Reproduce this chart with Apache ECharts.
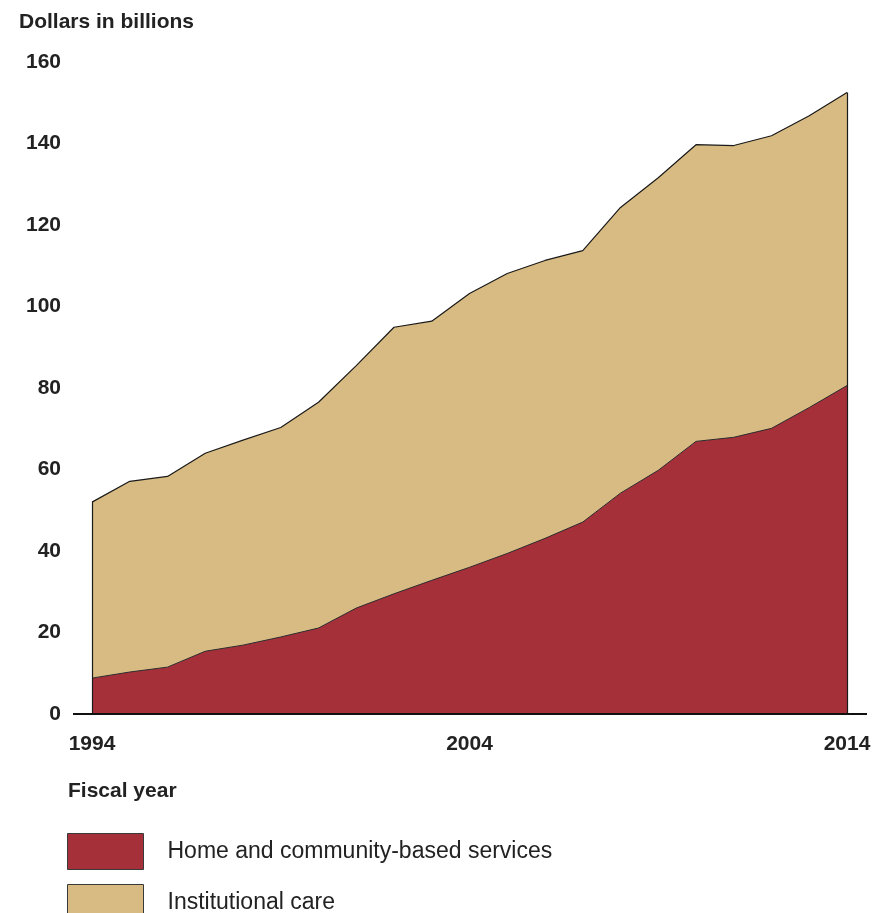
<!DOCTYPE html>
<html>
<head>
<meta charset="utf-8">
<script src="https://cdn.jsdelivr.net/npm/echarts@6/dist/echarts.min.js"></script>
<style>
html,body{margin:0;padding:0;background:#fff;}
#chart{width:893px;height:913px;}
</style>
</head>
<body>
<div id="chart"></div>
<script>
const years = ['1994','1995','1996','1997','1998','1999','2000','2001','2002','2003','2004','2005','2006','2007','2008','2009','2010','2011','2012','2013','2014'];
const hcbs = [8.8, 10.3, 11.5, 15.4, 16.9, 18.9, 21.1, 26.0, 29.5, 32.8, 36.0, 39.4, 43.1, 47.1, 54.2, 59.8, 66.9, 67.9, 70.1, 75.2, 80.6];
const total = [52.0, 57.1, 58.3, 64.0, 67.2, 70.3, 76.5, 85.5, 94.9, 96.4, 103.2, 108.1, 111.3, 113.7, 124.3, 131.6, 139.7, 139.5, 141.9, 146.8, 152.5];
const institutional = total.map((t, i) => +(t - hcbs[i]).toFixed(1));
const yTicks = [0, 20, 40, 60, 80, 100, 120, 140, 160];
const shownYears = ['1994', '2004', '2014'];
const seriesNames = ['Home and community-based services', 'Institutional care'];

const RED = '#A6303A';
const TAN = '#D7BB83';
const FONT = '"Liberation Sans", Arial, sans-serif';

const legendBase = {
  orient: 'vertical', left: 67, padding: 0,
  itemWidth: 76, itemHeight: 36,
  icon: 'rect',
  itemStyle: { borderColor: '#3a3a3a', borderWidth: 1 },
  textStyle: { fontFamily: FONT, fontSize: 23, color: '#222', padding: [4, 0, 0, 19] }
};

const chart = echarts.init(document.getElementById('chart'));
const last = years.length - 1;
chart.setOption({
  animation: false,
  backgroundColor: '#fff',
  textStyle: { fontFamily: FONT },
  grid: { left: 92, right: 46, top: 62, bottom: 199, containLabel: false },
  title: [
    { text: 'Dollars in billions', left: 19, top: 12, padding: 0,
      textStyle: { fontFamily: FONT, fontSize: 21, fontWeight: 'bold', color: '#222' } },
    { text: 'Fiscal year', left: 68, top: 781, padding: 0,
      textStyle: { fontFamily: FONT, fontSize: 21, fontWeight: 'bold', color: '#222' } }
  ],
  legend: [
    Object.assign({}, legendBase, { top: 833, data: [seriesNames[0]] }),
    Object.assign({}, legendBase, { top: 884, data: [seriesNames[1]] })
  ],
  xAxis: {
    type: 'category', data: years, boundaryGap: false,
    axisLine: { show: false },
    axisTick: { show: false },
    splitLine: { show: false },
    axisLabel: {
      interval: (idx, val) => shownYears.indexOf(val) >= 0,
      margin: 20, fontFamily: FONT, fontSize: 21, fontWeight: 'bold', color: '#222',
      showMinLabel: true, showMaxLabel: true
    }
  },
  yAxis: {
    type: 'value', min: yTicks[0], max: yTicks[yTicks.length - 1], interval: 20,
    axisLine: { show: false }, axisTick: { show: false }, splitLine: { show: false },
    axisLabel: { margin: 31, fontFamily: FONT, fontSize: 21, fontWeight: 'bold', color: '#222' }
  },
  graphic: [
    { type: 'line', z: 100, shape: { x1: 73, y1: 714, x2: 867, y2: 714 },
      style: { stroke: '#111', lineWidth: 2 } }
  ],
  series: [
    {
      name: seriesNames[0], type: 'line', stack: 'a', data: hcbs,
      symbol: 'none', smooth: false,
      lineStyle: { color: '#2a2a2a', width: 1 },
      itemStyle: { color: RED },
      areaStyle: { color: RED, opacity: 1 },
      z: 3
    },
    {
      name: seriesNames[1], type: 'line', stack: 'a', data: institutional,
      symbol: 'none', smooth: false,
      lineStyle: { color: '#1a1a1a', width: 1.2 },
      itemStyle: { color: TAN },
      areaStyle: { color: TAN, opacity: 1 },
      z: 2,
      markLine: {
        silent: true, symbol: 'none', label: { show: false },
        lineStyle: { color: '#1a1a1a', width: 1.2, type: 'solid' },
        data: [
          [{ coord: [years[0], 0] }, { coord: [years[0], total[0]] }],
          [{ coord: [years[last], 0] }, { coord: [years[last], total[last]] }]
        ]
      }
    }
  ]
});
</script>
</body>
</html>
